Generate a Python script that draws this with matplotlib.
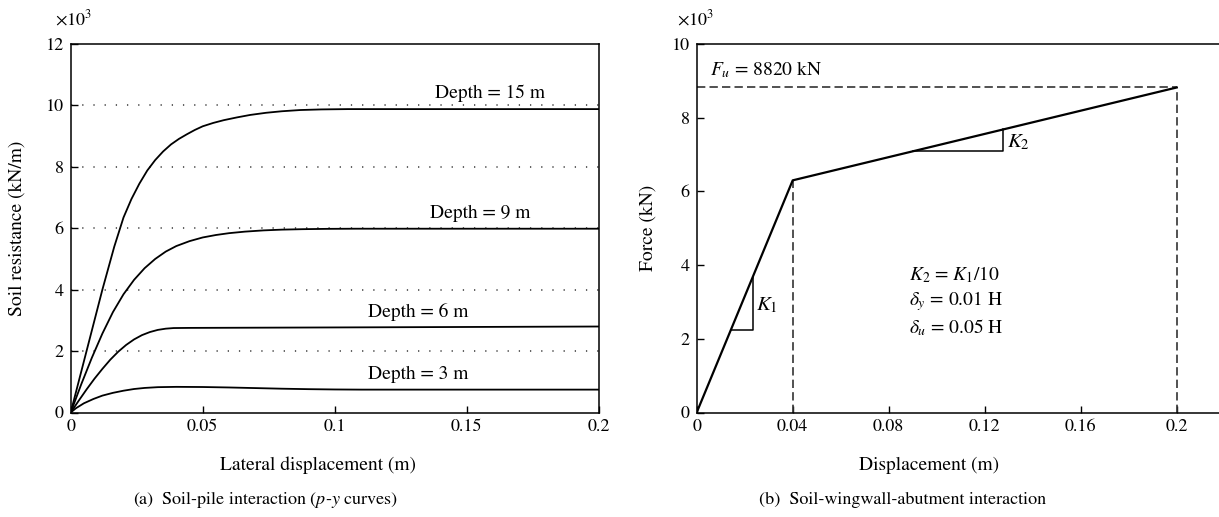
import matplotlib
matplotlib.use("Agg")
import matplotlib.pyplot as plt

plt.rcParams["font.family"] = "STIXGeneral"
plt.rcParams["mathtext.fontset"] = "stix"
plt.rcParams["font.size"] = 13

# ---------------- data: (a) p-y curves (values in x10^3 kN/m) ----------------
d15_x = [0, 0.006, 0.012, 0.0165, 0.020, 0.023, 0.026, 0.029, 0.032, 0.035, 0.038,
         0.041, 0.044, 0.047, 0.050, 0.054, 0.058, 0.063, 0.068, 0.074, 0.080,
         0.087, 0.095, 0.105, 0.200]
d15_y = [0, 2.0, 4.0, 5.4, 6.35, 6.95, 7.45, 7.88, 8.22, 8.5, 8.73,
         8.91, 9.06, 9.20, 9.32, 9.43, 9.52, 9.61, 9.69, 9.76, 9.81,
         9.85, 9.87, 9.88, 9.88]

d9_x = [0, 0.004, 0.008, 0.012, 0.016, 0.020, 0.024, 0.028, 0.032, 0.036, 0.040,
        0.045, 0.050, 0.055, 0.060, 0.066, 0.073, 0.080, 0.088, 0.097, 0.108, 0.200]
d9_y = [0, 0.92, 1.78, 2.57, 3.27, 3.85, 4.32, 4.70, 5.0, 5.24, 5.42,
        5.58, 5.70, 5.78, 5.84, 5.89, 5.93, 5.955, 5.97, 5.98, 5.985, 5.985]

d6_x = [0, 0.003, 0.006, 0.009, 0.012, 0.015, 0.018, 0.021, 0.024, 0.027, 0.030,
        0.033, 0.036, 0.039, 0.045, 0.100, 0.200]
d6_y = [0, 0.38, 0.75, 1.10, 1.42, 1.72, 1.98, 2.20, 2.38, 2.52, 2.62,
        2.69, 2.73, 2.75, 2.755, 2.77, 2.80]

d3_x = [0, 0.002, 0.005, 0.0086, 0.012, 0.016, 0.020, 0.024, 0.028, 0.033, 0.040,
        0.050, 0.060, 0.070, 0.080, 0.090, 0.100, 0.110, 0.120, 0.200]
d3_y = [0, 0.14, 0.30, 0.44, 0.55, 0.64, 0.71, 0.765, 0.80, 0.825, 0.835,
        0.83, 0.815, 0.795, 0.775, 0.76, 0.75, 0.745, 0.745, 0.745]

depth_labels = ["Depth = 15 m", "Depth = 9 m", "Depth = 6 m", "Depth = 3 m"]

left_xticks = [0, 0.05, 0.1, 0.15, 0.2]
left_xticklabels = ["0", "0.05", "0.1", "0.15", "0.2"]
left_yticks = [0, 2, 4, 6, 8, 10, 12]
left_grid = [2, 4, 6, 8, 10]

# ---------------- data: (b) bilinear force-displacement ----------------
bl_disp = [0, 0.04, 0.2]          # m
bl_force = [0, 6300, 8820]        # kN
F_u = 8820

right_xticks = [0, 0.04, 0.08, 0.12, 0.16, 0.2]
right_xticklabels = ["0", "0.04", "0.08", "0.12", "0.16", "0.2"]
right_yticks = [0, 2, 4, 6, 8, 10]

# ---------------- figure ----------------
W, H = 1219, 517
fig = plt.figure(figsize=(W / 100, H / 100), dpi=100)

def fx(px):
    return px / W

def fy(py):
    return 1 - py / H

ax_bottom = fy(412.5)
ax_h = (412.5 - 44.0) / H
axL = fig.add_axes([fx(70.7), ax_bottom, fx(528), ax_h])
axR = fig.add_axes([fx(696.7), ax_bottom, fx(528), ax_h])

lw = 1.3
for ax in (axL, axR):
    for s in ax.spines.values():
        s.set_linewidth(1.1)
    ax.tick_params(direction="in", length=5, width=1.0, top=False, right=False,
                   labelsize=13, pad=5)

# ---- (a) ----
for yv in left_grid:
    axL.axhline(yv, color="#555555", lw=1.3, ls=(0, (0.7, 5.5)), zorder=1)
for xs, ys in [(d15_x, d15_y), (d9_x, d9_y), (d6_x, d6_y), (d3_x, d3_y)]:
    axL.plot(xs, ys, color="black", lw=lw, zorder=3, solid_joinstyle="round",
             solid_capstyle="round")

axL.set_xlim(0, 0.2)
axL.set_ylim(0, 12)
axL.set_xticks(left_xticks)
axL.set_xticklabels(left_xticklabels)
axL.set_yticks(left_yticks)

label_pos = [(0.138, 10.39), (0.136, 6.48), (0.1126, 3.28), (0.1126, 1.25)]
for lab, (x, y) in zip(depth_labels, label_pos):
    axL.text(x, y, lab, ha="left", va="center", fontsize=14)

# ---- (b) ----
force_k = [f / 1000 for f in bl_force]
Fu_k = F_u / 1000
axR.plot(bl_disp, force_k, color="black", lw=1.6, zorder=3)
dash = (0, (5.0, 2.5))
axR.plot([0, bl_disp[2]], [Fu_k, Fu_k], color="#333333", lw=1.2, ls=dash)
axR.plot([bl_disp[1], bl_disp[1]], [0, force_k[1]], color="#333333", lw=1.2, ls=dash)
axR.plot([bl_disp[2], bl_disp[2]], [0, force_k[2]], color="#333333", lw=1.2, ls=dash)

K1 = force_k[1] / bl_disp[1]
K2 = (force_k[2] - force_k[1]) / (bl_disp[2] - bl_disp[1])

# slope triangle K1
xa, xb = 0.0142, 0.0233
ya = K1 * xa
axR.plot([xa, xb, xb], [ya, ya, K1 * xb], color="black", lw=1.1)
axR.text(xb + 0.0015, (ya + K1 * xb) / 2 - 0.05, r"$K_1$", ha="left", va="center", fontsize=15)

# slope triangle K2
xa2, xb2 = 0.0902, 0.1277
ya2 = force_k[1] + K2 * (xa2 - bl_disp[1])
yb2 = force_k[1] + K2 * (xb2 - bl_disp[1])
axR.plot([xa2, xb2, xb2], [ya2, ya2, yb2], color="black", lw=1.1)
axR.text(xb2 + 0.0015, 7.32, r"$K_2$", ha="left", va="center", fontsize=15)

axR.text(0.0057, 9.3, r"$F_u$ = 8820 kN", ha="left", va="center", fontsize=14)
axR.text(0.0886, 3.75, r"$K_2$ = $K_1$/10", ha="left", va="center", fontsize=14)
axR.text(0.0886, 3.03, r"$\delta_y$ = 0.01 H", ha="left", va="center", fontsize=14)
axR.text(0.0886, 2.31, r"$\delta_u$ = 0.05 H", ha="left", va="center", fontsize=14)

axR.set_xlim(0, 0.22)
axR.set_ylim(0, 10)
axR.set_xticks(right_xticks)
axR.set_xticklabels(right_xticklabels)
axR.set_yticks(right_yticks)
axR.spines["right"].set_visible(False)

# ---- axis labels / captions ----
fig.text(fx(55), fy(19), r"$\times10^3$", ha="left", va="center", fontsize=13)
fig.text(fx(677), fy(19), r"$\times10^3$", ha="left", va="center", fontsize=13)

fig.text(fx(17), fy(228), "Soil resistance (kN/m)", rotation=90, ha="center", va="center", fontsize=14)
fig.text(fx(648), fy(228), "Force (kN)", rotation=90, ha="center", va="center", fontsize=14)

fig.text(fx(318), fy(465), "Lateral displacement (m)", ha="center", va="center", fontsize=14)
fig.text(fx(929.5), fy(465), "Displacement (m)", ha="center", va="center", fontsize=14)

fig.text(fx(265), fy(500), r"(a)  Soil-pile interaction ($p$-$y$ curves)", ha="center", va="center", fontsize=13)
fig.text(fx(902.5), fy(500), "(b)  Soil-wingwall-abutment interaction", ha="center", va="center", fontsize=13)

fig.savefig("out.png", dpi=100)
